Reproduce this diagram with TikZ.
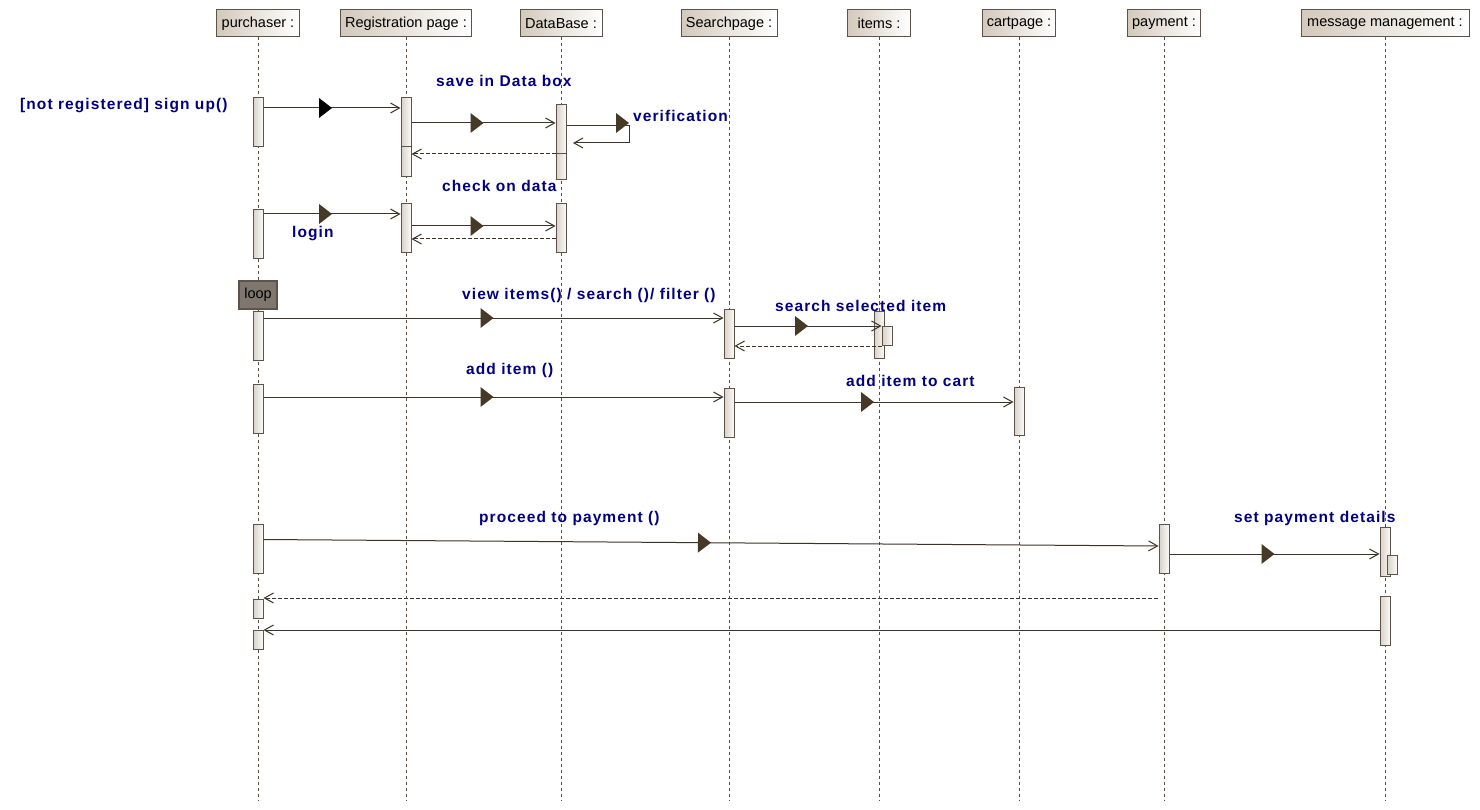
\documentclass[tikz,border=0pt]{standalone}
\usepackage{fontspec}
\setmainfont{Liberation Sans}
\newfontfamily\lblfont[LetterSpace=7,BoldFont=Liberation Sans Bold]{Liberation Sans}
\usetikzlibrary{arrows.meta,decorations.markings}

\definecolor{navytext}{HTML}{000080}
\definecolor{linecol}{HTML}{3D3327}
\definecolor{tricol}{HTML}{463A26}
\definecolor{bordercol}{HTML}{5E534A}
\definecolor{headL}{HTML}{D3C9BB}
\definecolor{actL}{HTML}{D8D1C7}
\definecolor{actR}{HTML}{FBFAF8}
\definecolor{loopfill}{HTML}{7F776E}
\definecolor{lifecol}{HTML}{5B4D40}

% activation bar: name, lifeline x, top y, bottom y
\newcommand\actbox[4]{\node[act, minimum height={#4-#3}] (#1) at (#2,{(#3+#4)/2}) {};}

\begin{document}
\begin{tikzpicture}[x=1pt,y=-1pt,
  head/.style={draw=bordercol, line width=1pt, left color=headL, right color=white,
    minimum height=27pt, inner xsep=3pt, inner ysep=0pt,
    font=\fontsize{14.5}{16}\selectfont},
  lifeline/.style={draw=lifecol, line width=0.8pt, dash pattern=on 3pt off 3pt},
  act/.style={draw=bordercol, line width=1pt, left color=actL, right color=actR,
    minimum width=10pt, inner sep=0pt},
  loopbox/.style={draw=bordercol, line width=1.2pt, fill=loopfill,
    minimum width=38pt, minimum height=28pt, inner sep=0pt,
    font=\fontsize{14.5}{16}\selectfont},
  msg/.style={draw=linecol, line width=1pt,
    -{Straight Barb[length=9pt,width=10pt,line width=1pt]}},
  ret/.style={msg, dash pattern=on 4pt off 2pt},
  midtri/.style={postaction={decorate}, decoration={markings,
    mark=at position 0.5 with {\fill[#1] (0,0) -- (-13,10) -- (-13,-10) -- cycle;}}},
  midtri/.default=tricol,
  lbl/.style={anchor=base west, inner sep=0pt, text=navytext,
    font=\lblfont\bfseries\fontsize{15.5}{18}\selectfont}
]
\useasboundingbox (0,0) rectangle (1480,810);
\fill[white] (0,0) rectangle (1480,810);

% object headers
\node[head, minimum width=83pt]  (hPur) at (258,23.5)  {purchaser :};
\node[head, minimum width=131pt] (hReg) at (406,23.5)  {Registration page :};
\node[head, minimum width=82pt]  (hDB)  at (561,23.5)  {DataBase :};
\node[head, minimum width=96pt]  (hSrc) at (729,23.5)  {Searchpage :};
\node[head, minimum width=63pt]  (hItm) at (879,23.5)  {items :};
\node[head, minimum width=73pt]  (hCrt) at (1019,23.5) {cartpage :};
\node[head, minimum width=73pt]  (hPay) at (1164,23.5) {payment :};
\node[head, minimum width=168pt] (hMsg) at (1385,23.5) {message management :};

% lifelines
\coordinate (bottom) at (0,800);
\foreach \h in {hPur,hReg,hDB,hSrc,hItm,hCrt,hPay,hMsg}
  \draw[lifeline] (\h.south) -- (\h.south |- bottom);

% loop fragment tag
\node[loopbox] (loop) at (258,295) {loop};

% activation bars
\actbox{pa1}{258}{98}{147}
\actbox{pa2}{258}{210}{259}
\actbox{pa3}{258}{311}{360}
\actbox{pa4}{258}{384}{433}
\actbox{pa5}{258}{524}{573}
\actbox{pa6}{258}{599}{618}
\actbox{pa7}{258}{630}{649}
\actbox{ra1}{406}{98}{177}
\actbox{ra2}{406}{204}{253}
\actbox{da1}{561}{105}{180}
\actbox{da2}{561}{204}{253}
\actbox{sa1}{729}{309}{358}
\actbox{sa2}{729}{388}{437}
\actbox{ia1}{879}{311}{358}
\actbox{ia2}{887}{326}{345}
\actbox{ca1}{1019}{387}{435}
\actbox{ya1}{1164}{524}{573}
\actbox{ma1}{1385}{527}{576}
\actbox{ma2}{1392}{555}{574}
\actbox{ma3}{1385}{596}{645}

% dividers inside the first registration and database bars
\coordinate (dv1) at (0,147);
\coordinate (dv2) at (0,154);
\draw[bordercol, line width=1pt] (ra1.west |- dv1) -- (ra1.east |- dv1);
\draw[bordercol, line width=1pt] (da1.west |- dv2) -- (da1.east |- dv2);

% message rows
\coordinate (m1) at (0,108);
\coordinate (m2) at (0,123);
\coordinate (m3) at (0,154);
\coordinate (m4) at (0,214);
\coordinate (m5) at (0,226);
\coordinate (m6) at (0,239);
\coordinate (m7) at (0,318);
\coordinate (m8) at (0,326);
\coordinate (m9) at (0,346);
\coordinate (m10) at (0,397);
\coordinate (m11) at (0,402);
\coordinate (m12a) at (0,539.5);
\coordinate (m12b) at (0,546);
\coordinate (m13) at (0,554);
\coordinate (m15) at (0,630);

% registration
\draw[msg, midtri=black] (pa1.east |- m1) -- (ra1.west |- m1);
\draw[msg, midtri] (ra1.east |- m2) -- (da1.west |- m2);
% self call on the database
\coordinate (selfA) at (629,126);
\coordinate (selfB) at (629,143);
\coordinate (selfC) at (573,143);
\draw[msg] (da1.east |- selfA) -- (selfA) -- (selfB) -- (selfC);
\fill[tricol] ([yshift=3pt]selfA) -- ++(-13,10) -- ++(0,-20) -- cycle;
\draw[ret] (da1.west |- m3) -- (ra1.east |- m3);

% login
\draw[msg, midtri] (pa2.east |- m4) -- (ra2.west |- m4);
\draw[msg, midtri] (ra2.east |- m5) -- (da2.west |- m5);
\draw[ret] (da2.west |- m6) -- (ra2.east |- m6);

% browsing loop
\draw[msg, midtri] (pa3.east |- m7) -- (sa1.west |- m7);
\draw[msg, midtri] (sa1.east |- m8) -- (ia2.west |- m8);
\draw[ret] (ia2.west |- m9) -- (sa1.east |- m9);
\draw[msg, midtri] (pa4.east |- m10) -- (sa2.west |- m10);
\draw[msg, midtri] (sa2.east |- m11) -- (ca1.west |- m11);

% payment
\draw[msg, midtri] (pa5.east |- m12a) -- (ya1.west |- m12b);
\draw[msg, midtri] (ya1.east |- m13) -- (ma1.west |- m13);
\coordinate (r14) at (1158,598);
\draw[ret] (r14) -- (pa6.east |- r14);
\draw[msg] (ma3.west |- m15) -- (pa7.east |- m15);

% message labels
\node[lbl] (l1)  at (20,110)   {[not registered] sign up()};
\node[lbl] (l2)  at (436,87)   {save in Data box};
\node[lbl] (l3)  at (633,122)  {verification};
\node[lbl] (l4)  at (442,192)  {check on data};
\node[lbl] (l5)  at (292,238)  {login};
\node[lbl] (l6)  at (462,300)  {view items() / search ()/ filter ()};
\node[lbl] (l7)  at (775,312)  {search selected item};
\node[lbl] (l8)  at (466,374)  {add item ()};
\node[lbl] (l9)  at (846,386)  {add item to cart};
\node[lbl] (l10) at (479,522)  {proceed to payment ()};
\node[lbl] (l11) at (1234,522) {set payment details};
\end{tikzpicture}
\end{document}
